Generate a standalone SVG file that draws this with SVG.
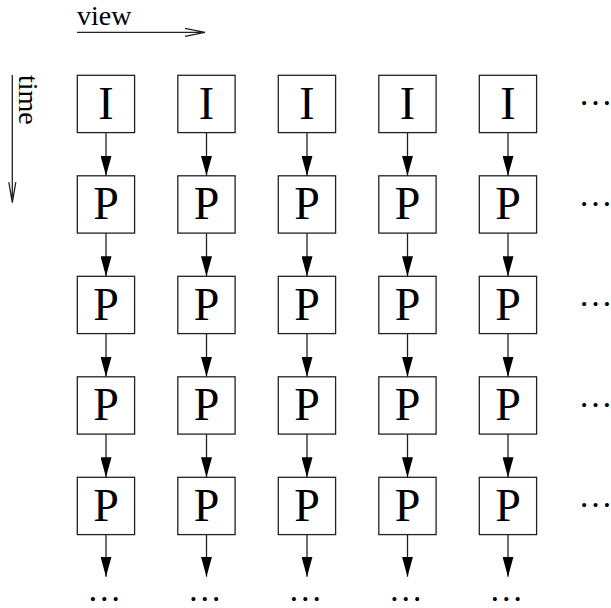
<svg xmlns="http://www.w3.org/2000/svg" width="611" height="608" viewBox="0 0 611 608">
<style>
  .box rect { fill: #fff; stroke: #222; stroke-width: 1.3; }
  .box text { font-family: "Liberation Serif", "Times New Roman", serif; font-size: 46px; text-anchor: middle; fill: #000; }
  .edge { stroke: #222; stroke-width: 1.3; fill: none; marker-end: url(#tip); }
  .label { font-family: "Liberation Serif", "Times New Roman", serif; font-size: 28px; fill: #000; }
  .dots { font-family: "Liberation Serif", "Times New Roman", serif; font-size: 34px; fill: #000; text-anchor: middle; }
  .axis { stroke: #222; stroke-width: 1.3; fill: none; }
</style>
<defs>
  <marker id="tip" markerUnits="userSpaceOnUse" markerWidth="20" markerHeight="11" refX="20" refY="5.5" orient="auto">
    <path d="M0,0 L20,5.5 L0,11 z" fill="#000"/>
  </marker>
</defs>

<!-- axes -->
<g id="axis-view">
  <text class="label" x="77" y="25">view</text>
  <path class="axis" d="M77,32.3 H205 M185,28.3 L205,32.3 L185,36.3"/>
</g>
<g id="axis-time">
  <text class="label" transform="translate(19,75) rotate(90)">time</text>
  <path class="axis" d="M12.3,75 V202.7 M8.8,182.2 L12.3,202.7 L15.8,182.2"/>
</g>

<!-- frames: columns = views, rows = time -->
<g id="n-0-0" class="box" transform="translate(77.3,75.3)"><rect width="57.3" height="57.3"/><text x="28.65" y="43.7">I</text></g>
<g id="n-0-1" class="box" transform="translate(177.8,75.3)"><rect width="57.3" height="57.3"/><text x="28.65" y="43.7">I</text></g>
<g id="n-0-2" class="box" transform="translate(278.3,75.3)"><rect width="57.3" height="57.3"/><text x="28.65" y="43.7">I</text></g>
<g id="n-0-3" class="box" transform="translate(378.8,75.3)"><rect width="57.3" height="57.3"/><text x="28.65" y="43.7">I</text></g>
<g id="n-0-4" class="box" transform="translate(479.3,75.3)"><rect width="57.3" height="57.3"/><text x="28.65" y="43.7">I</text></g>

<g id="n-1-0" class="box" transform="translate(77.3,175.8)"><rect width="57.3" height="57.3"/><text x="28.65" y="43.7">P</text></g>
<g id="n-1-1" class="box" transform="translate(177.8,175.8)"><rect width="57.3" height="57.3"/><text x="28.65" y="43.7">P</text></g>
<g id="n-1-2" class="box" transform="translate(278.3,175.8)"><rect width="57.3" height="57.3"/><text x="28.65" y="43.7">P</text></g>
<g id="n-1-3" class="box" transform="translate(378.8,175.8)"><rect width="57.3" height="57.3"/><text x="28.65" y="43.7">P</text></g>
<g id="n-1-4" class="box" transform="translate(479.3,175.8)"><rect width="57.3" height="57.3"/><text x="28.65" y="43.7">P</text></g>

<g id="n-2-0" class="box" transform="translate(77.3,276.3)"><rect width="57.3" height="57.3"/><text x="28.65" y="43.7">P</text></g>
<g id="n-2-1" class="box" transform="translate(177.8,276.3)"><rect width="57.3" height="57.3"/><text x="28.65" y="43.7">P</text></g>
<g id="n-2-2" class="box" transform="translate(278.3,276.3)"><rect width="57.3" height="57.3"/><text x="28.65" y="43.7">P</text></g>
<g id="n-2-3" class="box" transform="translate(378.8,276.3)"><rect width="57.3" height="57.3"/><text x="28.65" y="43.7">P</text></g>
<g id="n-2-4" class="box" transform="translate(479.3,276.3)"><rect width="57.3" height="57.3"/><text x="28.65" y="43.7">P</text></g>

<g id="n-3-0" class="box" transform="translate(77.3,376.8)"><rect width="57.3" height="57.3"/><text x="28.65" y="43.7">P</text></g>
<g id="n-3-1" class="box" transform="translate(177.8,376.8)"><rect width="57.3" height="57.3"/><text x="28.65" y="43.7">P</text></g>
<g id="n-3-2" class="box" transform="translate(278.3,376.8)"><rect width="57.3" height="57.3"/><text x="28.65" y="43.7">P</text></g>
<g id="n-3-3" class="box" transform="translate(378.8,376.8)"><rect width="57.3" height="57.3"/><text x="28.65" y="43.7">P</text></g>
<g id="n-3-4" class="box" transform="translate(479.3,376.8)"><rect width="57.3" height="57.3"/><text x="28.65" y="43.7">P</text></g>

<g id="n-4-0" class="box" transform="translate(77.3,477.3)"><rect width="57.3" height="57.3"/><text x="28.65" y="43.7">P</text></g>
<g id="n-4-1" class="box" transform="translate(177.8,477.3)"><rect width="57.3" height="57.3"/><text x="28.65" y="43.7">P</text></g>
<g id="n-4-2" class="box" transform="translate(278.3,477.3)"><rect width="57.3" height="57.3"/><text x="28.65" y="43.7">P</text></g>
<g id="n-4-3" class="box" transform="translate(378.8,477.3)"><rect width="57.3" height="57.3"/><text x="28.65" y="43.7">P</text></g>
<g id="n-4-4" class="box" transform="translate(479.3,477.3)"><rect width="57.3" height="57.3"/><text x="28.65" y="43.7">P</text></g>

<!-- temporal prediction edges -->
<g id="edges">
  <path class="edge" d="M106,132.6 V175.8"/><path class="edge" d="M206.5,132.6 V175.8"/><path class="edge" d="M307,132.6 V175.8"/><path class="edge" d="M407.5,132.6 V175.8"/><path class="edge" d="M508,132.6 V175.8"/>
  <path class="edge" d="M106,233.1 V276.3"/><path class="edge" d="M206.5,233.1 V276.3"/><path class="edge" d="M307,233.1 V276.3"/><path class="edge" d="M407.5,233.1 V276.3"/><path class="edge" d="M508,233.1 V276.3"/>
  <path class="edge" d="M106,333.6 V376.8"/><path class="edge" d="M206.5,333.6 V376.8"/><path class="edge" d="M307,333.6 V376.8"/><path class="edge" d="M407.5,333.6 V376.8"/><path class="edge" d="M508,333.6 V376.8"/>
  <path class="edge" d="M106,434.1 V477.3"/><path class="edge" d="M206.5,434.1 V477.3"/><path class="edge" d="M307,434.1 V477.3"/><path class="edge" d="M407.5,434.1 V477.3"/><path class="edge" d="M508,434.1 V477.3"/>
  <path class="edge" d="M106,534.6 V576.7"/><path class="edge" d="M206.5,534.6 V576.7"/><path class="edge" d="M307,534.6 V576.7"/><path class="edge" d="M407.5,534.6 V576.7"/><path class="edge" d="M508,534.6 V576.7"/>
</g>

<!-- continuation marks -->
<g id="more">
  <text class="dots" x="595.5" y="105">…</text>
  <text class="dots" x="595.5" y="205.5">…</text>
  <text class="dots" x="595.5" y="306">…</text>
  <text class="dots" x="595.5" y="406.5">…</text>
  <text class="dots" x="595.5" y="507">…</text>
  <text class="dots" x="104.3" y="601">…</text>
  <text class="dots" x="204.8" y="601">…</text>
  <text class="dots" x="305.3" y="601">…</text>
  <text class="dots" x="405.8" y="601">…</text>
  <text class="dots" x="506.3" y="601">…</text>
</g>
</svg>
